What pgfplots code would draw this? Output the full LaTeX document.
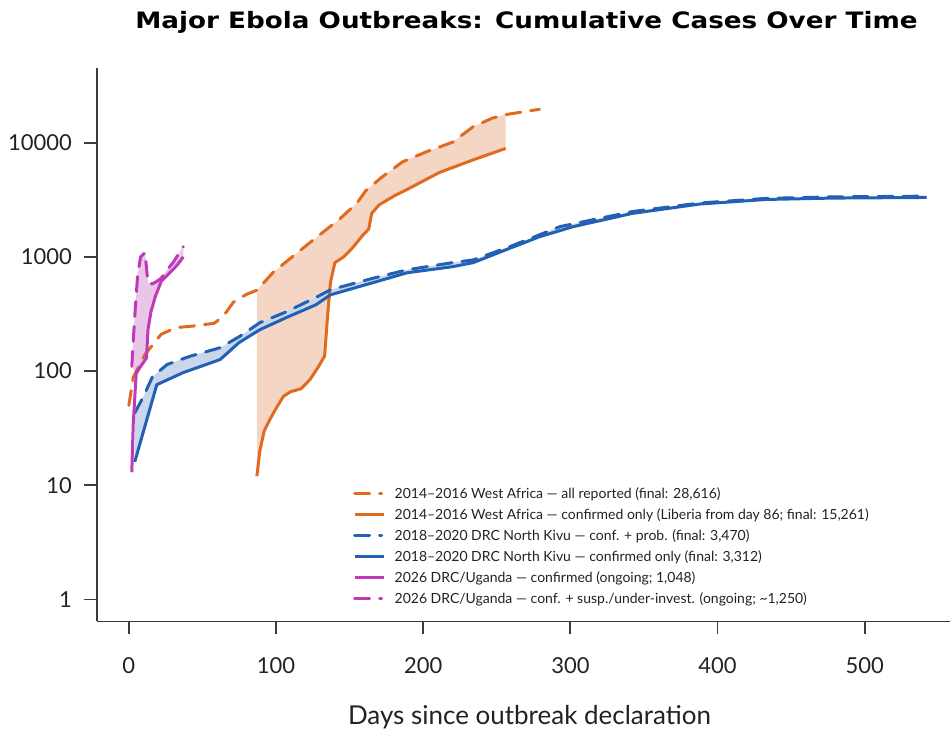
\documentclass[border=0pt]{standalone}
\usepackage{pgfplots}
\pgfplotsset{compat=1.18}
\usetikzlibrary{calc}
\usepackage{fontspec}
\setmainfont{Lato}
\newfontfamily\titlefont{DejaVu Sans}
\usepackage{graphicx}
\definecolor{orline}{HTML}{E06A1E}
\definecolor{orfill}{HTML}{F5D6C4}
\definecolor{blline}{HTML}{2160B2}
\definecolor{blfill}{HTML}{C8D7EB}
\definecolor{mgline}{HTML}{BE3AB9}
\definecolor{mgfill}{HTML}{E8C6E8}
\definecolor{axgray}{HTML}{3C3C3C}
\definecolor{txgray}{HTML}{222222}
\begin{document}
\begin{tikzpicture}
\begin{axis}[
  scale only axis,
  width=427pt, height=277pt,
  ymode=log,
  xmin=-21.7, xmax=558,
  ymin=0.642, ymax=45100,
  axis lines=left,
  axis line style={-, draw=axgray, line width=0.9pt},
  xtick={0,100,200,300,400,500},
  ytick={1,10,100,1000,10000},
  yticklabels={1,10,100,1000,10000},
  yminorticks=false, xminorticks=false,
  tick align=outside,
  major tick length=6.5pt,
  tick style={draw=axgray, line width=0.9pt},
  ticklabel style={font=\fontsize{11}{12}\selectfont, text=txgray},
  xticklabel style={yshift=-8pt},
  yticklabel style={xshift=-2.5pt},
  /pgf/number format/assume math mode=true,
  xlabel={Days since outbreak declaration},
  xlabel style={font=\fontsize{13}{15}\selectfont, text=txgray, at={(axis description cs:0.507,0)}, anchor=base, yshift=-51.5pt},
  legend style={at={(axis description cs:0.2998,0.2509)}, anchor=north west, draw=none, fill=none, inner sep=0pt,
    font=\fontsize{7}{8}\selectfont, text=txgray,
    nodes={inner sep=0.8pt, text height=6.9pt, text depth=2pt},
    /tikz/every odd column/.append style={column sep=4pt}},
  legend cell align=left,
  legend image code/.code={\draw[#1] (0pt,0pt) -- (14.5pt,0pt);},
]
% ---- fills ----
\addplot[forget plot, draw=none, fill=orfill] coordinates {
(87,510) (98,730) (111,1000) (128,1500) (143,2130) (155,2960) (161,3800) (172,5000) (186,6800) (202,8300) (220,10100) (234,13800) (247,16400) (256,17600)
(256,8900) (234,7070) (211,5480) (190,3950) (180,3400) (170,2850) (165,2400) (163,1750) (159,1550) (152,1200) (146,1000) (140,890) (137,600) (135,300) (133,135) (129,110) (123,84) (117,70) (110,66) (105,60) (100,47) (96,38) (92,30) (89,20) (87,12)};
\addplot[forget plot, draw=none, fill=blfill] coordinates {
(4,43) (10,60) (16,89) (26,114) (41,134) (62,160) (75,200) (89,265) (107,330) (127,440) (137,515) (166,650) (189,770) (220,890) (234,940) (259,1230) (293,1840) (342,2490) (388,2960) (433,3250) (478,3350) (542,3400)
(542,3312) (478,3270) (433,3180) (388,2900) (342,2400) (302,1840) (279,1500) (256,1150) (234,890) (220,820) (189,725) (166,595) (137,465) (127,380) (107,294) (89,230) (75,178) (62,126) (37,97) (19,76) (4,16)};
\addplot[forget plot, draw=none, fill=mgfill] coordinates {
(2,110) (4,300) (6,700) (8,1000) (11,1090) (12,800) (13,590) (16,580) (19,610) (22,650) (26,770) (30,890) (37,1230)
(37,1000) (33,850) (28,730) (22,610) (18,450) (15,330) (13,230) (12,130) (7,105) (5,95)};
% ---- lines ----
\addplot[orline, line width=1.5pt, line cap=round, dash pattern=on 7.5pt off 5pt,
  legend image code/.code={\draw[orline, line width=1.5pt, dash pattern=on 7.5pt off 5pt on 1pt off 5pt] (0pt,0pt) -- (14.5pt,0pt);}] coordinates {
(0,50) (3,88) (11,140) (22,210) (32,240) (44,248) (58,262) (64,300) (71,400) (80,470) (87,510) (98,730) (111,1000) (128,1500) (143,2130) (155,2960) (161,3800) (172,5000) (186,6800) (202,8300) (220,10100) (234,13800) (247,16400) (256,17600) (279,19600)};
\addlegendentry{2014--2016 West Africa --- all reported (final: 28,616)}
\addplot[orline, line width=1.5pt, line join=round] coordinates {
(87,12) (89,20) (92,30) (96,38) (100,47) (105,60) (110,66) (117,70) (123,84) (129,110) (133,135) (135,300) (137,600) (140,890) (146,1000) (152,1200) (159,1550) (163,1750) (165,2400) (170,2850) (180,3400) (190,3950) (211,5480) (234,7070) (256,8900)};
\addlegendentry{2014--2016 West Africa --- confirmed only (Liberia from day 86; final: 15,261)}
\addplot[blline, line width=1.5pt, line cap=round, dash pattern=on 7.5pt off 5pt,
  legend image code/.code={\draw[blline, line width=1.5pt, dash pattern=on 7.5pt off 5pt on 1pt off 5pt] (0pt,0pt) -- (14.5pt,0pt);}] coordinates {
(4,43) (10,60) (16,89) (26,114) (41,134) (62,160) (75,200) (89,265) (107,330) (127,440) (137,515) (166,650) (189,770) (220,890) (234,940) (259,1230) (293,1840) (342,2490) (388,2960) (433,3250) (478,3350) (542,3400)};
\addlegendentry{2018--2020 DRC North Kivu --- conf. + prob. (final: 3,470)}
\addplot[blline, line width=1.5pt, line join=round] coordinates {
(4,16) (19,76) (37,97) (62,126) (75,178) (89,230) (107,294) (127,380) (137,465) (166,595) (189,725) (220,820) (234,890) (256,1150) (279,1500) (302,1840) (342,2400) (388,2900) (433,3180) (478,3270) (542,3312)};
\addlegendentry{2018--2020 DRC North Kivu --- confirmed only (final: 3,312)}
\addplot[mgline, line width=1.5pt, line join=round] coordinates {
(2,13) (3,35) (5,95) (7,105) (12,130) (13,230) (15,330) (18,450) (22,610) (28,730) (33,850) (37,1000)};
\addlegendentry{2026 DRC/Uganda --- confirmed (ongoing; 1,048)}
\addplot[mgline, line width=1.5pt, line cap=round, dash pattern=on 7.5pt off 5pt,
  legend image code/.code={\draw[mgline, line width=1.5pt, dash pattern=on 7.5pt off 5pt on 1pt off 5pt] (0pt,0pt) -- (14.5pt,0pt);}] coordinates {
(2,110) (4,300) (6,700) (8,1000) (11,1090) (12,800) (13,590) (16,580) (19,610) (22,650) (26,770) (30,890) (37,1230)};
\addlegendentry{2026 DRC/Uganda --- conf. + susp./under-invest. (ongoing; \textasciitilde 1,250)}
\end{axis}
\node[anchor=base, inner sep=0pt, text=black] at ($(current axis.north west)!0.5035!(current axis.north east)+(0,19.5pt)$) {\resizebox{391.5pt}{\height}{\titlefont\bfseries\fontsize{11.3}{13}\selectfont Major Ebola Outbreaks: Cumulative Cases Over Time}};
\path (current axis.south west) ++(-48.5pt,-55pt) rectangle ++(475.5pt,366pt);
\end{tikzpicture}
\end{document}
